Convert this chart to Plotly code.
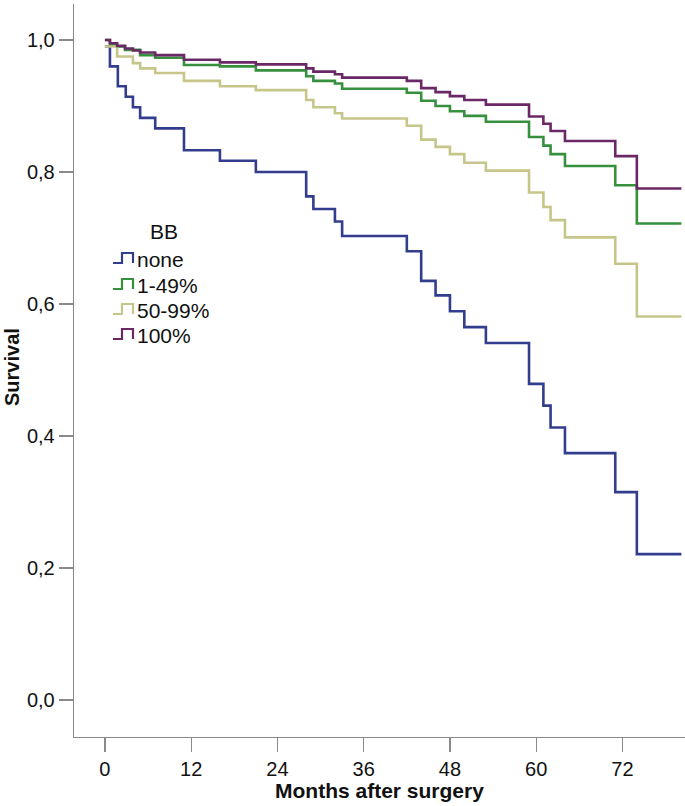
import plotly.graph_objects as go

# ---- data ----
groups = ["none", "1-49%", "50-99%", "100%"]
legend_title = "BB"
x_title = "Months after surgery"
y_title = "Survival"
followup_end = 80.2

months_none = [0, 0.7, 1.8, 2.9, 3.9, 4.9, 7, 11, 16, 21, 28, 29, 32, 33,
               42, 44, 46, 48, 50, 53, 59, 61, 62, 64, 71, 74]
surv_none = [0.990, 0.960, 0.930, 0.914, 0.898, 0.882, 0.866, 0.833, 0.817, 0.800,
             0.763, 0.744, 0.725, 0.703, 0.680, 0.635, 0.613, 0.589, 0.565, 0.541,
             0.479, 0.446, 0.413, 0.374, 0.315, 0.221]

months_1_49 = [0, 0.7, 1.7, 2.8, 4.9, 7, 11, 16, 21, 28, 29, 32, 33,
               42, 44, 46, 48, 50, 53, 59, 61, 62, 64, 71, 74]
surv_1_49 = [1.000, 0.993, 0.990, 0.985, 0.977, 0.973, 0.962, 0.960, 0.954, 0.945,
             0.938, 0.934, 0.926, 0.920, 0.908, 0.900, 0.892, 0.885, 0.876, 0.853,
             0.840, 0.827, 0.809, 0.780, 0.722]

months_50_99 = [0, 1.7, 3.9, 4.9, 7, 11, 16, 21, 28, 29, 32, 33,
                42, 44, 46, 48, 50, 53, 59, 61, 62, 64, 71, 74]
surv_50_99 = [0.990, 0.975, 0.965, 0.957, 0.950, 0.938, 0.930, 0.924, 0.909, 0.898,
              0.889, 0.881, 0.870, 0.849, 0.838, 0.827, 0.814, 0.802, 0.769, 0.747,
              0.727, 0.701, 0.661, 0.581]

months_100 = [0, 0.7, 1.7, 2.8, 3.9, 4.9, 7, 11, 16, 21, 28, 29, 32, 33,
              42, 44, 46, 48, 50, 53, 59, 61, 62, 64, 71, 74]
surv_100 = [1.000, 0.995, 0.991, 0.987, 0.984, 0.981, 0.977, 0.970, 0.966, 0.963,
            0.957, 0.952, 0.948, 0.943, 0.938, 0.927, 0.921, 0.915, 0.909, 0.902,
            0.884, 0.873, 0.862, 0.847, 0.824, 0.775]

x_ticks = [0, 12, 24, 36, 48, 60, 72]
y_ticks = [0.0, 0.2, 0.4, 0.6, 0.8, 1.0]

colors = ["#323e8d", "#36903e", "#c6c68a", "#6b2866"]

series = [
    (months_none, surv_none),
    (months_1_49, surv_1_49),
    (months_50_99, surv_50_99),
    (months_100, surv_100),
]

# ---- layout geometry (pixels) ----
W, H = 685, 806
ML, MR, MT, MB = 74, 0, 4, 69
PW, PH = W - ML - MR, H - MT - MB

def px_x(p):
    return (p - ML) / PW

def px_y(p):
    return (H - MB - p) / PH

fig = go.Figure()
for name, col, (t, s) in zip(groups, colors, series):
    fig.add_trace(go.Scatter(
        x=list(t) + [followup_end], y=list(s) + [s[-1]],
        mode="lines", line=dict(color=col, width=2.6, shape="hv"),
        name=name, showlegend=False, hoverinfo="skip"))

base_family = "Liberation Sans, Arial, Helvetica, sans-serif"
tick_font = dict(family=base_family, size=20, color="#111111")
title_font = dict(family=base_family, size=21, color="#111111")

fig.update_layout(
    width=W, height=H,
    margin=dict(l=ML, r=MR, t=MT, b=MB, pad=0),
    paper_bgcolor="white", plot_bgcolor="white",
    separators=",.",
    showlegend=False,
    xaxis=dict(
        range=[-4.3, 80.7], tickvals=x_ticks, ticks="outside", ticklen=14,
        tickcolor="#8a8a8a", tickwidth=1.3, showline=True, linecolor="#8a8a8a",
        linewidth=1.3, showgrid=False, zeroline=False, tickfont=tick_font,
    ),
    yaxis=dict(
        range=[-0.056, 1.0545], tickvals=y_ticks, tickformat=".1f", ticks="outside",
        ticklen=14, tickcolor="#8a8a8a", tickwidth=1.3, showline=True,
        linecolor="#8a8a8a", linewidth=1.3, showgrid=False, zeroline=False,
        tickfont=tick_font,
    ),
)

# axis titles
fig.add_annotation(text="<b>%s</b>" % x_title, x=0.5, y=px_y(790), xref="paper", yref="paper",
                   xanchor="center", yanchor="middle", showarrow=False, font=title_font)
fig.add_annotation(text="<b>%s</b>" % y_title, x=px_x(12), y=px_y(367), xref="paper", yref="paper",
                   xanchor="center", yanchor="middle", showarrow=False, textangle=-90,
                   font=dict(family=base_family, size=20, color="#111111"))

# ---- custom legend with step glyphs ----
legend_font = dict(family=base_family, size=21, color="#111111")
fig.add_annotation(text=legend_title, x=px_x(148), y=px_y(231), xref="paper", yref="paper",
                   xanchor="left", yanchor="middle", showarrow=False, font=legend_font)
row_y = [259, 285, 310, 335]
for name, col, ry in zip(groups, colors, row_y):
    fig.add_shape(type="path", xref="paper", yref="paper",
                  xsizemode="pixel", ysizemode="pixel",
                  xanchor=px_x(113), yanchor=px_y(ry + 4),
                  path="M0,0 L9,0 L9,10 L20,10 L20,0",
                  line=dict(color=col, width=2.2))
    fig.add_annotation(text=name, x=px_x(135), y=px_y(ry), xref="paper", yref="paper",
                       xanchor="left", yanchor="middle", showarrow=False,
                       font=legend_font)

fig.write_html("out.html",
               config={"displayModeBar": False, "staticPlot": True},
               post_script="document.body.style.margin='0';document.body.style.overflow='hidden';")
